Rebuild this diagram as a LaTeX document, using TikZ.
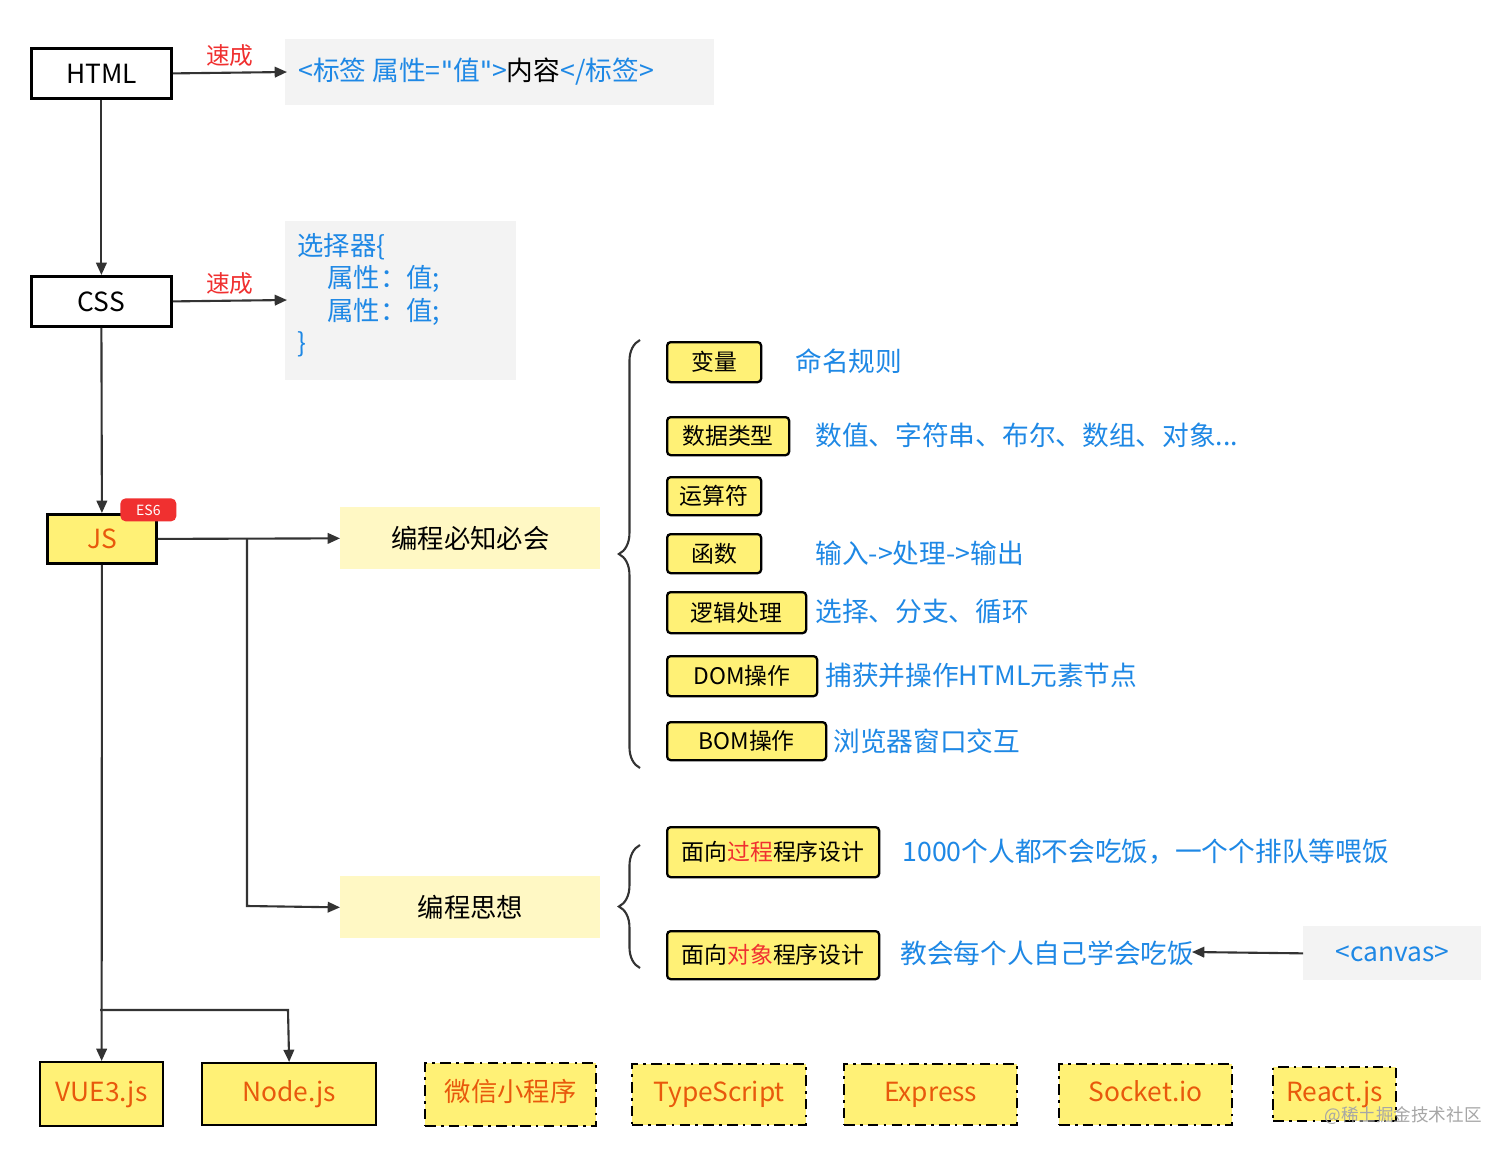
\documentclass[tikz,border=0pt]{standalone}
\usepackage{fontspec}
\setmainfont{Noto Sans CJK SC}
\newfontfamily\qf{DejaVu Sans}
\usetikzlibrary{arrows.meta,decorations.pathreplacing}
\definecolor{bl}{HTML}{1E88E5}
\definecolor{rd}{HTML}{F03030}
\definecolor{yl}{HTML}{FFF176}
\definecolor{ly}{HTML}{FFF8C4}
\definecolor{gy}{HTML}{F3F3F3}
\definecolor{ln}{HTML}{333333}
\definecolor{og}{HTML}{E8590C}
\tikzset{
 x=0.02cm,y=-0.02cm,
 wh/.style={minimum width=#1*0.02cm},
 hh/.style={minimum height=#1*0.02cm},
 box/.style={draw=black,line width=1.6pt,font=\fontsize{15}{17}\selectfont,inner sep=0},
 sy/.style={draw=black,line width=1.3pt,fill=yl,rounded corners=2pt,font=\fontsize{13}{15}\selectfont,anchor=north west,inner sep=0},
 bt/.style={text=bl,font=\fontsize{15.2}{17}\selectfont,anchor=west,inner sep=0},
 ar/.style={draw=ln,line width=1.2pt,-{Triangle[length=7pt,width=6pt]}},
 bot/.style={draw=black,line width=1.3pt,fill=yl,text=og,font=\fontsize{15}{17}\selectfont,anchor=north west,inner sep=0,text height=11pt,text depth=3pt},
 dd/.style={bot,dash pattern=on 6pt off 3pt on 1.5pt off 3pt},
 lyb/.style={fill=ly,font=\fontsize{15}{17}\selectfont,anchor=north west,inner sep=0},
}
\begin{document}
\begin{tikzpicture}
\useasboundingbox[fill=white] (0,0) rectangle (1512,1156);
% top
\node[box,anchor=north west,wh=140,hh=50] (html) at (30,47) {HTML};
\node[box,anchor=north west,wh=140,hh=50] (css) at (30,275) {CSS};
\node[box,anchor=north west,fill=yl,text=og,wh=109,hh=49] (js) at (46,513) {JS};
\node[fill=rd,text=white,rounded corners=3pt,anchor=north west,wh=56,hh=23,inner sep=0,font=\fontsize{8}{9}\selectfont] (es) at (120,498) {ES6};
\node[fill=gy,anchor=north west,wh=429,hh=66,inner sep=0] (g1) at (285,39) {};
\node[anchor=west,inner sep=0,font=\fontsize{15.2}{17}\selectfont,text=bl] (g1t) at (298,72) {<标签 属性={\qf"}值{\qf"}>\textcolor{black}{内容}</标签>};
\node[fill=gy,anchor=north west,wh=231,hh=159,inner sep=0] (g2) at (285,221) {};
\node[anchor=north west,inner sep=0,font=\fontsize{15}{18.5}\selectfont,text=bl,align=left] (g2t) at (297,233) {选择器\{\\\hspace{0.6cm}属性：值;\\\hspace{0.6cm}属性：值;\\\}};
\coordinate (h1) at (287,72);
\coordinate (c1) at (287,300);
\draw[ar] (html.east) -- node[above,text=rd,font=\fontsize{13.5}{15}\selectfont,inner sep=3pt]{速成} (h1);
\draw[ar] (css.east) -- node[above,text=rd,font=\fontsize{13.5}{15}\selectfont,inner sep=3pt]{速成} (c1);
\draw[ar] (html.south) -- (css.north);
\draw[ar] (css.south) -- (js.north);
% middle
\node[lyb,wh=260,hh=62] (m1) at (340,507) {编程必知必会};
\node[lyb,wh=260,hh=62] (m2) at (340,876) {编程思想};
\draw[ar] (js.east) -- (m1.west);
\coordinate (b1) at (247,538);
\coordinate (b2) at (247,906);
\draw[ar] (b1) -- (b2) -- (m2.west);
\draw[ln,line width=1.2pt,decorate,decoration={brace,amplitude=12pt}] (640,768) -- (640,340);
\draw[ln,line width=1.2pt,decorate,decoration={brace,amplitude=12pt}] (640,968) -- (640,845);
\node[sy,wh=94,hh=40] (v1) at (666,341) {变量};
\node[sy,wh=122,hh=38] (v2) at (666,416) {数据类型};
\node[sy,wh=94,hh=38] (v3) at (666,476) {运算符};
\node[sy,wh=94,hh=39] (v4) at (666,533) {函数};
\node[sy,wh=139,hh=41] (v5) at (666,591) {逻辑处理};
\node[sy,wh=150,hh=40] (v6) at (666,655) {DOM操作};
\node[sy,wh=159,hh=38] (v7) at (666,721) {BOM操作};
\node[bt] (t1) at (795,361) {命名规则};
\node[bt] (t2) at (815,435) {数值、字符串、布尔、数组、对象...};
\node[bt] (t4) at (815,553) {输入->处理->输出};
\node[bt] (t5) at (815,611) {选择、分支、循环};
\node[bt] (t6) at (825,675) {捕获并操作HTML元素节点};
\node[bt] (t7) at (833,741) {浏览器窗口交互};
\node[sy,wh=212,hh=50] (p1) at (666,826) {面向\textcolor{rd}{过程}程序设计};
\node[sy,wh=212,hh=48] (p2) at (666,930) {面向\textcolor{rd}{对象}程序设计};
\node[bt] (q1) at (902,852) {1000个人都不会吃饭，一个个排队等喂饭};
\node[bt] (q2) at (900,953) {教会每个人自己学会吃饭};
\node[fill=gy,anchor=north west,wh=178,hh=54,inner sep=0,text=bl,font=\fontsize{15}{17}\selectfont] (cv) at (1303,926) {<canvas>};
\coordinate (qa) at (1192,952);
\draw[ar] (cv.west) -- (qa);
% bottom
\node[bot,wh=123,hh=64] (n1) at (39,1061) {VUE3.js};
\node[bot,wh=174,hh=62] (n2) at (201,1062) {Node.js};
\node[dd,wh=171,hh=63] (n3) at (424,1062) {微信小程序};
\node[dd,wh=174,hh=61] (n4) at (631,1063) {TypeScript};
\node[dd,wh=173,hh=61] (n5) at (843,1063) {Express};
\node[dd,wh=173,hh=61] (n6) at (1058,1063) {Socket.io};
\node[dd,wh=123,hh=54] (n7) at (1272,1066) {React.js};
\draw[ar] (js.south) -- (n1.north);
\coordinate (d1) at (100,1010);
\coordinate (d2) at (288,1010);
\draw[ar] (d1) -- (d2) -- (n2.north);
\node[text=gray!70,anchor=east,inner sep=0,font=\fontsize{10}{12}\selectfont] (wm) at (1482,1116) {@稀土掘金技术社区};
\end{tikzpicture}
\end{document}
